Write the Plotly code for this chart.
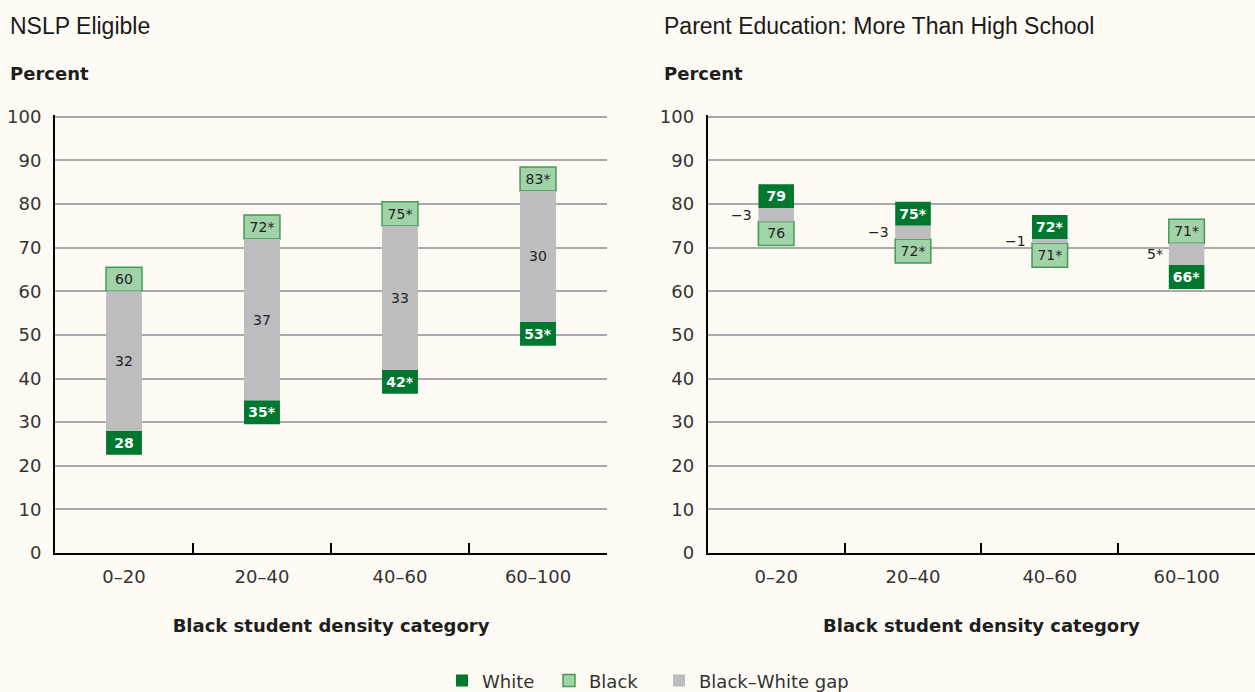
import plotly.graph_objects as go

# ---------------- data ----------------
categories = ["0–20", "20–40", "40–60", "60–100"]

nslp_white = [28, 35, 42, 53]
nslp_white_lbl = ["28", "35*", "42*", "53*"]
nslp_black = [60, 72, 75, 83]
nslp_black_lbl = ["60", "72*", "75*", "83*"]
nslp_gap_lbl = ["32", "37", "33", "30"]

pe_white = [79, 75, 72, 66]
pe_white_lbl = ["79", "75*", "72*", "66*"]
pe_black = [76, 72, 71, 71]
pe_black_lbl = ["76", "72*", "71*", "71*"]
pe_gap_lbl = ["−3", "−3", "−1", "5*"]

y_ticks = list(range(0, 101, 10))

# ---------------- style ----------------
BG = "#fdfbf3"
DARK = "#00772f"
LIGHT = "#a2d2a8"
LIGHT_LINE = "#3d9c58"
GAP = "#bdbdc0"
GRID = "#a9a9a9"
TXT = "#333333"
BOX_H = 5.5
BAR_W = 0.26
BODY = "DejaVu Sans"
TITLE_FONT = "Liberation Sans, Arial, sans-serif"

fig = go.Figure()

panels = [
    dict(white=nslp_white, wl=nslp_white_lbl, black=nslp_black, bl=nslp_black_lbl,
         gl=nslp_gap_lbl, xa="x", ya="y", inside=True, legend=True),
    dict(white=pe_white, wl=pe_white_lbl, black=pe_black, bl=pe_black_lbl,
         gl=pe_gap_lbl, xa="x2", ya="y2", inside=False, legend=False),
]

annotations = []
for p in panels:
    xs = list(range(len(categories)))
    w, b = p["white"], p["black"]
    w_base = [wv - BOX_H if wv < bv else wv for wv, bv in zip(w, b)]
    b_base = [bv if wv < bv else bv - BOX_H for wv, bv in zip(w, b)]
    g_base = [min(wv, bv) for wv, bv in zip(w, b)]
    g_len = [abs(bv - wv) for wv, bv in zip(w, b)]

    fig.add_trace(go.Bar(
        x=xs, y=[BOX_H] * len(xs), base=w_base, width=BAR_W, name="White",
        marker=dict(color=DARK, line=dict(width=0)),
        text=p["wl"], textposition="inside", insidetextanchor="middle",
        constraintext="none",
        textfont=dict(family=BODY, size=14, color="white", weight="bold"),
        xaxis=p["xa"], yaxis=p["ya"], showlegend=p["legend"], legend="legend",
        hoverinfo="skip"))
    fig.add_trace(go.Bar(
        x=xs, y=[BOX_H] * len(xs), base=b_base, width=BAR_W, name="Black",
        marker=dict(color=LIGHT, line=dict(width=1.5, color=LIGHT_LINE)),
        text=p["bl"], textposition="inside", insidetextanchor="middle",
        constraintext="none",
        textfont=dict(family=BODY, size=14, color="#222222"),
        xaxis=p["xa"], yaxis=p["ya"], showlegend=p["legend"], legend="legend2",
        hoverinfo="skip"))
    fig.add_trace(go.Bar(
        x=xs, y=g_len, base=g_base, width=BAR_W, name="Black–White gap",
        marker=dict(color=GAP, line=dict(width=0)),
        xaxis=p["xa"], yaxis=p["ya"], showlegend=p["legend"], legend="legend3",
        hoverinfo="skip"))

    for i, lbl in enumerate(p["gl"]):
        mid = g_base[i] + g_len[i] / 2
        if p["inside"]:
            annotations.append(dict(x=xs[i], y=mid, xref=p["xa"], yref=p["ya"],
                                    text=lbl, showarrow=False,
                                    font=dict(family=BODY, size=14, color="#222222")))
        else:
            annotations.append(dict(x=xs[i], y=mid, xref=p["xa"], yref=p["ya"],
                                    text=lbl, showarrow=False, xanchor="right",
                                    xshift=-22,
                                    font=dict(family=BODY, size=14, color="#222222")))

# titles
annotations += [
    dict(x=-0.039, y=1.203, xref="paper", yref="paper", xanchor="left", yanchor="middle",
         text="NSLP Eligible", showarrow=False,
         font=dict(family=TITLE_FONT, size=23, color="#1a1a1a")),
    dict(x=0.506, y=1.203, xref="paper", yref="paper", xanchor="left", yanchor="middle",
         text="Parent Education: More Than High School", showarrow=False,
         font=dict(family=TITLE_FONT, size=23, color="#1a1a1a")),
    dict(x=-0.039, y=1.095, xref="paper", yref="paper", xanchor="left", yanchor="middle",
         text="Percent", showarrow=False,
         font=dict(family=BODY, size=18, color="#1e1e1e", weight="bold")),
    dict(x=0.506, y=1.095, xref="paper", yref="paper", xanchor="left", yanchor="middle",
         text="Percent", showarrow=False,
         font=dict(family=BODY, size=18, color="#1e1e1e", weight="bold")),
]

xaxis_common = dict(
    range=[-0.5, len(categories) - 0.5],
    tickmode="array", tickvals=list(range(len(categories))), ticktext=categories,
    ticks="", showgrid=False, zeroline=False,
    showline=True, linecolor="black", linewidth=2,
    tickfont=dict(family=BODY, size=18, color=TXT),
    ticklabelstandoff=6,
    minor=dict(tickmode="array", tickvals=[i + 0.5 for i in range(len(categories) - 1)],
               ticks="inside", ticklen=10, tickwidth=2, tickcolor="black", showgrid=False),
    title=dict(text="Black student density category", standoff=34,
               font=dict(family=BODY, size=18, color="#1e1e1e", weight="bold")),
    fixedrange=True,
)
yaxis_common = dict(
    range=[0, 100.4], tickmode="array", tickvals=y_ticks,
    ticks="", showgrid=True, gridcolor=GRID, gridwidth=1.5,
    zeroline=False, showline=True, linecolor="black", linewidth=2,
    tickfont=dict(family=BODY, size=18, color=TXT),
    ticklabelstandoff=8, fixedrange=True,
)

legend_common = dict(orientation="h", yanchor="middle", y=-0.292, xanchor="left",
                     font=dict(family=BODY, size=18, color=TXT),
                     bgcolor="rgba(0,0,0,0)", itemclick=False, itemdoubleclick=False)

fig.update_layout(
    width=1255, height=692,
    paper_bgcolor=BG, plot_bgcolor=BG,
    margin=dict(l=55, r=0, t=115, b=139, autoexpand=False),
    barmode="overlay",
    xaxis=dict(domain=[0, 0.46], anchor="y", **xaxis_common),
    yaxis=dict(domain=[0, 1], anchor="x", **yaxis_common),
    xaxis2=dict(domain=[0.544, 1.0], anchor="y2", **xaxis_common),
    yaxis2=dict(domain=[0, 1], anchor="x2", **yaxis_common),
    annotations=annotations,
    showlegend=True,
    legend=dict(x=(442 - 55) / 1200, **legend_common),
    legend2=dict(x=(549 - 55) / 1200, **legend_common),
    legend3=dict(x=(659 - 55) / 1200, **legend_common),
    hovermode=False,
)

fig.write_html(
    "out.html",
    config={"displayModeBar": False},
    post_script="document.body.style.margin='0';document.body.style.background='#fdfbf3';",
)
